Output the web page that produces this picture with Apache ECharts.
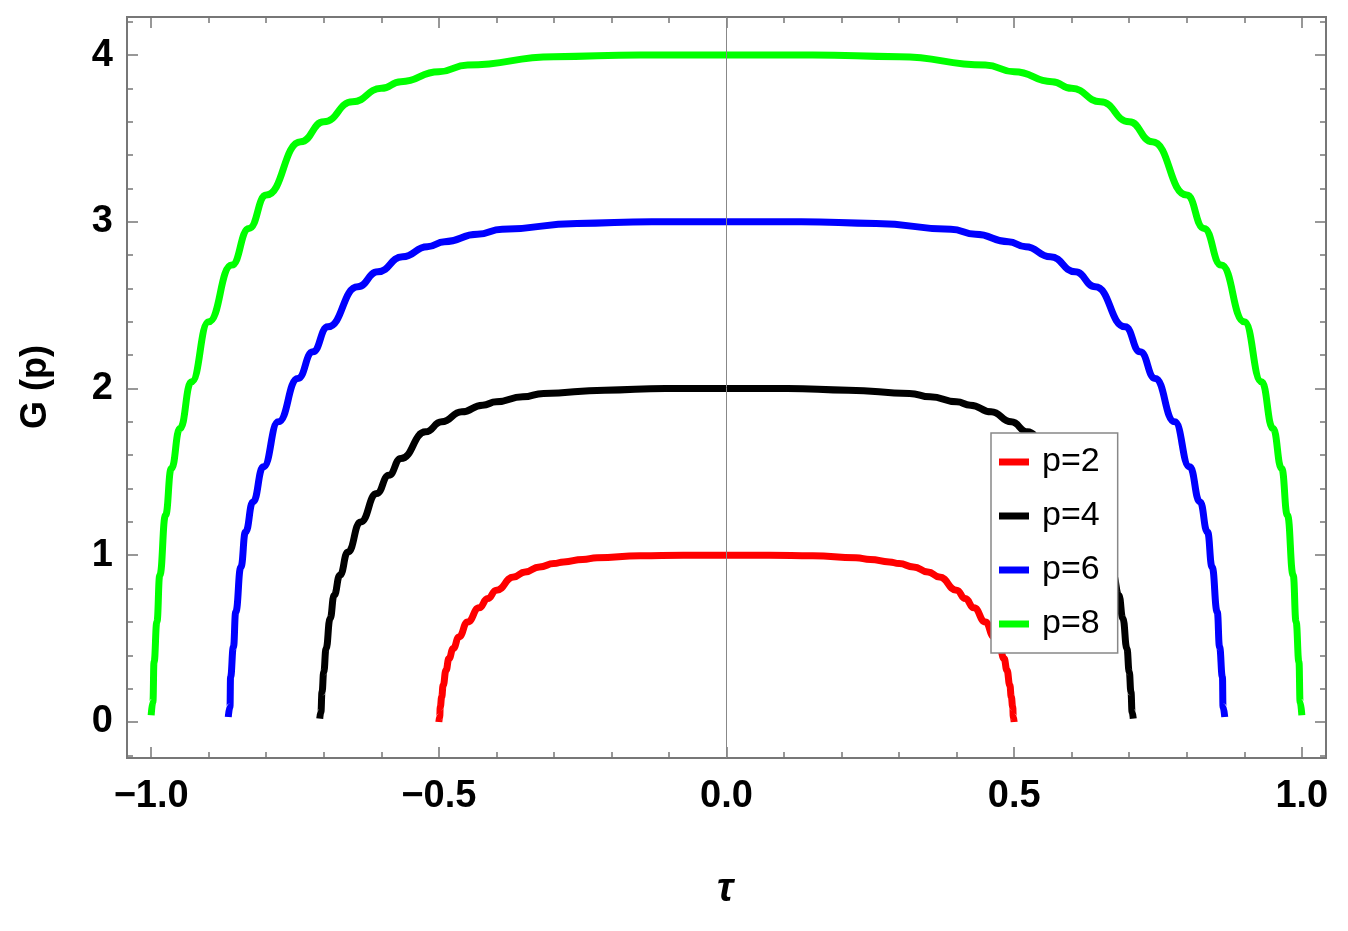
<!DOCTYPE html>
<html><head><meta charset="utf-8">
<script src="https://cdn.jsdelivr.net/npm/echarts@6/dist/echarts.min.js"></script>
<style>html,body{margin:0;background:#fff}#c{width:1348px;height:931px}</style>
</head><body><div id="c"></div>
<script>
const xP2=[-0.5,-0.4985,-0.4975,-0.495,-0.4925,-0.4875,-0.4825,-0.475,-0.465,-0.45,-0.43,-0.415,-0.4,-0.37,-0.35,-0.325,-0.3,-0.283,-0.25,-0.225,-0.15,-0.075,0,0.075,0.15,0.225,0.25,0.283,0.3,0.325,0.35,0.37,0.4,0.415,0.43,0.45,0.465,0.475,0.4825,0.4875,0.4925,0.495,0.4975,0.4985,0.5];
const yP2=[0,0.03,0.09,0.15,0.22,0.31,0.38,0.44,0.51,0.6,0.685,0.74,0.79,0.87,0.9,0.93,0.95,0.96,0.975,0.985,0.997,1,1,1,0.997,0.985,0.975,0.96,0.95,0.93,0.9,0.87,0.79,0.74,0.685,0.6,0.51,0.44,0.38,0.31,0.22,0.15,0.09,0.03,0];
const xP4=[-0.707,-0.705,-0.703,-0.7,-0.696,-0.689,-0.682,-0.672,-0.658,-0.636,-0.608,-0.587,-0.566,-0.523,-0.495,-0.46,-0.424,-0.4,-0.354,-0.318,-0.212,-0.106,0,0.106,0.212,0.318,0.354,0.4,0.424,0.46,0.495,0.523,0.566,0.587,0.608,0.636,0.658,0.672,0.682,0.689,0.696,0.7,0.703,0.705,0.707];
const yP4=[0.02,0.06,0.18,0.3,0.44,0.62,0.76,0.88,1.02,1.2,1.37,1.48,1.58,1.74,1.8,1.86,1.9,1.92,1.95,1.97,1.99,2,2,2,1.99,1.97,1.95,1.92,1.9,1.86,1.8,1.74,1.58,1.48,1.37,1.2,1.02,0.88,0.76,0.62,0.44,0.3,0.18,0.06,0.02];
const xP6=[-0.866,-0.863,-0.862,-0.857,-0.853,-0.844,-0.836,-0.823,-0.805,-0.779,-0.745,-0.719,-0.693,-0.641,-0.606,-0.563,-0.52,-0.49,-0.433,-0.39,-0.26,-0.13,0,0.13,0.26,0.39,0.433,0.49,0.52,0.563,0.606,0.641,0.693,0.719,0.745,0.779,0.805,0.823,0.836,0.844,0.853,0.857,0.862,0.863,0.866];
const yP6=[0.03,0.09,0.27,0.45,0.66,0.93,1.14,1.32,1.53,1.8,2.06,2.22,2.37,2.61,2.7,2.79,2.85,2.88,2.925,2.955,2.99,3,3,3,2.99,2.955,2.925,2.88,2.85,2.79,2.7,2.61,2.37,2.22,2.06,1.8,1.53,1.32,1.14,0.93,0.66,0.45,0.27,0.09,0.03];
const xP8=[-1,-0.997,-0.995,-0.99,-0.985,-0.975,-0.965,-0.95,-0.93,-0.9,-0.86,-0.83,-0.8,-0.74,-0.7,-0.65,-0.6,-0.566,-0.5,-0.45,-0.3,-0.15,0,0.15,0.3,0.45,0.5,0.566,0.6,0.65,0.7,0.74,0.8,0.83,0.86,0.9,0.93,0.95,0.965,0.975,0.985,0.99,0.995,0.997,1];
const yP8=[0.04,0.12,0.36,0.6,0.88,1.24,1.52,1.76,2.04,2.4,2.74,2.96,3.16,3.48,3.6,3.72,3.8,3.84,3.9,3.94,3.99,4,4,4,3.99,3.94,3.9,3.84,3.8,3.72,3.6,3.48,3.16,2.96,2.74,2.4,2.04,1.76,1.52,1.24,0.88,0.6,0.36,0.12,0.04];
const xMajor=[-1,-0.5,0,0.5,1];
const xMinor=[-1,-0.9,-0.8,-0.7,-0.6,-0.5,-0.4,-0.3,-0.2,-0.1,0,0.1,0.2,0.3,0.4,0.5,0.6,0.7,0.8,0.9,1];
const yMajor=[0,1,2,3,4];
const yMinor=[-0.2,0,0.2,0.4,0.6,0.8,1,1.2,1.4,1.6,1.8,2,2.2,2.4,2.6,2.8,3,3.2,3.4,3.6,3.8,4,4.2];
const zip=(a,b)=>a.map((v,i)=>[v,b[i]]);
const FR='#777';
const lbl={fontFamily:'Liberation Sans',fontWeight:'bold',fontSize:38,color:'#000'};
function xa(pos,ticks,len,showLbl){return {type:'value',min:-1.042,max:1.042,position:pos,
 axisLine:{show:true,onZero:false,lineStyle:{color:FR,width:2}},splitLine:{show:false},
 axisTick:{show:true,inside:true,length:len,customValues:ticks,lineStyle:{color:FR,width:1.5}},
 axisLabel:showLbl?Object.assign({customValues:xMajor,margin:20,formatter:v=>v.toFixed(1).replace('-','\u2212')},lbl):{show:false}};}
function ya(pos,ticks,len,showLbl){return {type:'value',min:-0.216,max:4.228,position:pos,
 axisLine:{show:true,onZero:false,lineStyle:{color:FR,width:2}},splitLine:{show:false},
 axisTick:{show:true,inside:true,length:len,customValues:ticks,lineStyle:{color:FR,width:1.5}},
 axisLabel:showLbl?Object.assign({customValues:yMajor,margin:14},lbl):{show:false}};}
const xAxes=[xa('bottom',xMajor,11,true),xa('bottom',xMinor,6,false),xa('top',xMajor,11,false),xa('top',xMinor,6,false)];
const yAxes=[ya('left',yMajor,11,true),ya('left',yMinor,6,false),ya('right',yMajor,11,false),ya('right',yMinor,6,false)];
function s(name,color,xs,ys){return {name,type:'line',data:zip(xs,ys),smooth:0.5,smoothMonotone:'x',showSymbol:false,
 lineStyle:{color,width:7},itemStyle:{color},xAxisIndex:0,yAxisIndex:0};}
const series=[s('p=2','#ff0000',xP2,yP2),s('p=4','#000000',xP4,yP4),s('p=6','#0000ff',xP6,yP6),s('p=8','#00ff00',xP8,yP8)];
series[0].markLine={silent:true,symbol:'none',label:{show:false},lineStyle:{color:'#888',width:1,type:'solid'},data:[{xAxis:0}]};
series[0].z=1;
const ch=echarts.init(document.getElementById('c'));
ch.setOption({animation:false,backgroundColor:'#fff',
 grid:{left:127,right:22,top:17,bottom:173},
 xAxis:xAxes,yAxis:yAxes,series,
 legend:{orient:'vertical',left:991,top:433,z:20,padding:[12,18,12,8],itemGap:20,itemWidth:30,itemHeight:7,icon:'rect',
  backgroundColor:'#fff',borderColor:'#888',borderWidth:1.5,
  textStyle:{fontFamily:'Liberation Sans',fontSize:34,color:'#000',padding:[0,0,0,8]},data:['p=2','p=4','p=6','p=8']},
 graphic:[
  {type:'text',left:717,top:870,style:{text:'τ',font:'italic bold 40px "Liberation Sans"',fill:'#000'}},
  {type:'text',x:36,y:387,rotation:Math.PI/2,style:{text:'G (p)',font:'bold 36px "Liberation Sans"',fill:'#000',textAlign:'center',textVerticalAlign:'middle'}}
 ]});
</script></body></html>
